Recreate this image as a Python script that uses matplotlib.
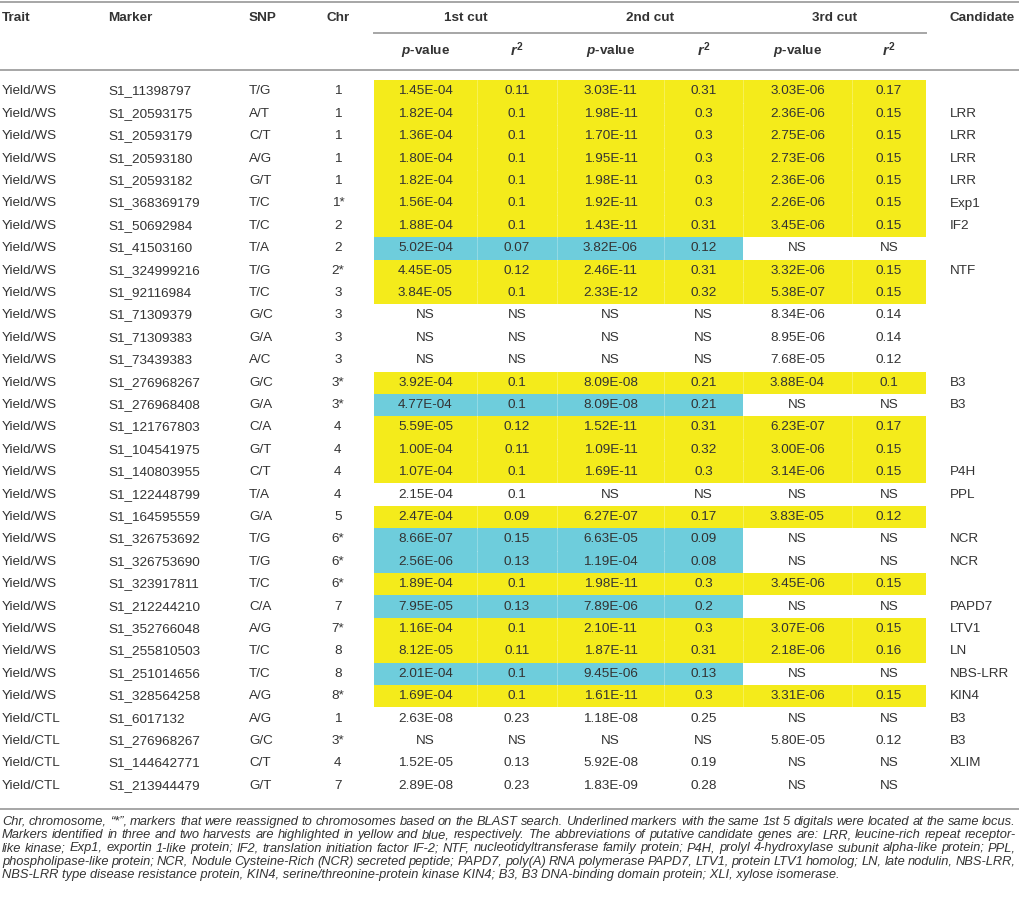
import matplotlib
matplotlib.use("Agg")
import matplotlib.pyplot as plt
from matplotlib.patches import Rectangle

# table content
trait = ["Yield/WS"] * 28 + ["Yield/CTL"] * 4
marker = ["S1_11398797", "S1_20593175", "S1_20593179", "S1_20593180", "S1_20593182",
          "S1_368369179", "S1_50692984", "S1_41503160", "S1_324999216", "S1_92116984",
          "S1_71309379", "S1_71309383", "S1_73439383", "S1_276968267", "S1_276968408",
          "S1_121767803", "S1_104541975", "S1_140803955", "S1_122448799", "S1_164595559",
          "S1_326753692", "S1_326753690", "S1_323917811", "S1_212244210", "S1_352766048",
          "S1_255810503", "S1_251014656", "S1_328564258", "S1_6017132", "S1_276968267",
          "S1_144642771", "S1_213944479"]
snp = ["T/G", "A/T", "C/T", "A/G", "G/T", "T/C", "T/C", "T/A", "T/G", "T/C",
       "G/C", "G/A", "A/C", "G/C", "G/A", "C/A", "G/T", "C/T", "T/A", "G/A",
       "T/G", "T/G", "T/C", "C/A", "A/G", "T/C", "T/C", "A/G", "A/G", "G/C",
       "C/T", "G/T"]
chrom = ["1", "1", "1", "1", "1", "1*", "2", "2", "2*", "3",
         "3", "3", "3", "3*", "3*", "4", "4", "4", "4", "5",
         "6*", "6*", "6*", "7", "7*", "8", "8", "8*", "1", "3*",
         "4", "7"]
p_cut1 = ["1.45E-04", "1.82E-04", "1.36E-04", "1.80E-04", "1.82E-04", "1.56E-04", "1.88E-04",
          "5.02E-04", "4.45E-05", "3.84E-05", "NS", "NS", "NS", "3.92E-04", "4.77E-04",
          "5.59E-05", "1.00E-04", "1.07E-04", "2.15E-04", "2.47E-04", "8.66E-07", "2.56E-06",
          "1.89E-04", "7.95E-05", "1.16E-04", "8.12E-05", "2.01E-04", "1.69E-04", "2.63E-08",
          "NS", "1.52E-05", "2.89E-08"]
r_cut1 = ["0.11", "0.1", "0.1", "0.1", "0.1", "0.1", "0.1", "0.07", "0.12", "0.1",
          "NS", "NS", "NS", "0.1", "0.1", "0.12", "0.11", "0.1", "0.1", "0.09",
          "0.15", "0.13", "0.1", "0.13", "0.1", "0.11", "0.1", "0.1", "0.23", "NS",
          "0.13", "0.23"]
p_cut2 = ["3.03E-11", "1.98E-11", "1.70E-11", "1.95E-11", "1.98E-11", "1.92E-11", "1.43E-11",
          "3.82E-06", "2.46E-11", "2.33E-12", "NS", "NS", "NS", "8.09E-08", "8.09E-08",
          "1.52E-11", "1.09E-11", "1.69E-11", "NS", "6.27E-07", "6.63E-05", "1.19E-04",
          "1.98E-11", "7.89E-06", "2.10E-11", "1.87E-11", "9.45E-06", "1.61E-11", "1.18E-08",
          "NS", "5.92E-08", "1.83E-09"]
r_cut2 = ["0.31", "0.3", "0.3", "0.3", "0.3", "0.3", "0.31", "0.12", "0.31", "0.32",
          "NS", "NS", "NS", "0.21", "0.21", "0.31", "0.32", "0.3", "NS", "0.17",
          "0.09", "0.08", "0.3", "0.2", "0.3", "0.31", "0.13", "0.3", "0.25", "NS",
          "0.19", "0.28"]
p_cut3 = ["3.03E-06", "2.36E-06", "2.75E-06", "2.73E-06", "2.36E-06", "2.26E-06", "3.45E-06",
          "NS", "3.32E-06", "5.38E-07", "8.34E-06", "8.95E-06", "7.68E-05", "3.88E-04", "NS",
          "6.23E-07", "3.00E-06", "3.14E-06", "NS", "3.83E-05", "NS", "NS",
          "3.45E-06", "NS", "3.07E-06", "2.18E-06", "NS", "3.31E-06", "NS",
          "5.80E-05", "NS", "NS"]
r_cut3 = ["0.17", "0.15", "0.15", "0.15", "0.15", "0.15", "0.15", "NS", "0.15", "0.15",
          "0.14", "0.14", "0.12", "0.1", "NS", "0.17", "0.15", "0.15", "NS", "0.12",
          "NS", "NS", "0.15", "NS", "0.15", "0.16", "NS", "0.15", "NS", "0.12",
          "NS", "NS"]
candidate = ["", "LRR", "LRR", "LRR", "LRR", "Exp1", "IF2", "", "NTF", "",
             "", "", "", "B3", "B3", "", "", "P4H", "PPL", "",
             "NCR", "NCR", "", "PAPD7", "LTV1", "LN", "NBS-LRR", "KIN4", "B3", "B3",
             "XLIM", ""]
# Y = found in three harvests (yellow), B = two harvests (blue)
harvest = ["Y", "Y", "Y", "Y", "Y", "Y", "Y", "B", "Y", "Y",
           "", "", "", "Y", "B", "Y", "Y", "Y", "", "Y",
           "B", "B", "Y", "B", "Y", "Y", "B", "Y", "", "",
           "", ""]

caption = [
    "Chr, chromosome, \u201c*\u201d, markers that were reassigned to chromosomes based on the BLAST search. "
    "Underlined markers with the same 1st 5 digitals were located at the same locus.",
    "Markers identified in three and two harvests are highlighted in yellow and blue, respectively. "
    "The abbreviations of putative candidate genes are: LRR, leucine-rich repeat receptor-",
    "like kinase; Exp1, exportin 1-like protein; IF2, translation initiation factor IF-2; NTF, "
    "nucleotidyltransferase family protein; P4H, prolyl 4-hydroxylase subunit alpha-like protein; PPL,",
    "phospholipase-like protein; NCR, Nodule Cysteine-Rich (NCR) secreted peptide; PAPD7, poly(A) RNA "
    "polymerase PAPD7, LTV1, protein LTV1 homolog; LN, late nodulin, NBS-LRR,",
    "NBS-LRR type disease resistance protein, KIN4, serine/threonine-protein kinase KIN4; B3, B3 "
    "DNA-binding domain protein; XLI, xylose isomerase.",
]

plt.rcParams['font.family'] = ['Liberation Sans', 'DejaVu Sans']
plt.rcParams['mathtext.fontset'] = 'custom'
plt.rcParams['mathtext.rm'] = 'Liberation Sans:bold'
plt.rcParams['mathtext.it'] = 'Liberation Sans:italic:bold'

TXT = "#333333"
RULE = "#a6a6a6"
YELLOW = "#f4eb1b"
BLUE = "#6ecddc"
FS = 9.7

fig = plt.figure(figsize=(10.19, 9.0), dpi=100)
ax = fig.add_axes([0, 0, 1, 1])
ax.set_xlim(0, 1019)
ax.set_ylim(900, 0)
ax.axis("off")

# column layout (pixels)
edges = [374, 477, 557, 664, 743, 852, 926]
row0, pitch = 91.5, 22.4

# highlighted cells
for i, h in enumerate(harvest):
    if not h:
        continue
    y = row0 + i * pitch
    ncell = 6 if h == "Y" else 4
    col = YELLOW if h == "Y" else BLUE
    for k in range(ncell):
        ax.add_patch(Rectangle((edges[k], y - pitch / 2), edges[k + 1] - edges[k], pitch,
                               facecolor=col, edgecolor="none"))
        if k > 0:
            ax.plot([edges[k]] * 2, [y - pitch / 2, y + pitch / 2], color="white",
                    lw=0.6, alpha=0.3)

# rules
ax.plot([0, 1019], [2, 2], color=RULE, lw=1.4)
ax.plot([edges[0], edges[-1]], [33, 33], color=RULE, lw=1.4)
ax.plot([0, 1019], [70, 70], color=RULE, lw=1.4)
ax.plot([0, 1019], [809, 809], color=RULE, lw=1.4)

# headers
hk = dict(fontsize=FS, fontweight="bold", color=TXT, va="center")
ax.text(2, 18, "Trait", ha="left", **hk)
ax.text(108, 18, "Marker", ha="left", **hk)
ax.text(249, 18, "SNP", ha="left", **hk)
ax.text(338, 18, "Chr", ha="center", **hk)
ax.text(950, 18, "Candidate", ha="left", **hk)
for k, name in enumerate(["1st cut", "2nd cut", "3rd cut"]):
    ax.text((edges[2 * k] + edges[2 * k + 2]) / 2, 18, name, ha="center", **hk)
    ax.text((edges[2 * k] + edges[2 * k + 1]) / 2, 51, "$p$-value", ha="center", **hk)
    ax.text((edges[2 * k + 1] + edges[2 * k + 2]) / 2, 50, "$r^2$", ha="center",
            fontsize=FS + 0.8, fontweight="bold", color=TXT, va="center")

# body
centers = [(e0 + e1) / 2 for e0, e1 in zip(edges[:-1], edges[1:])]
for i in range(len(marker)):
    y = row0 + i * pitch
    kw = dict(fontsize=FS, color=TXT, va="center")
    ax.text(2, y, trait[i], ha="left", **kw)
    ax.text(108, y, marker[i], ha="left", **kw)
    ax.text(249, y, snp[i], ha="left", **kw)
    ax.text(338, y, chrom[i], ha="center", **kw)
    vals = [p_cut1[i], r_cut1[i], p_cut2[i], r_cut2[i], p_cut3[i], r_cut3[i]]
    for cx, v in zip(centers, vals):
        ax.text(cx, y, v, ha="center", **kw)
    ax.text(950, y, candidate[i], ha="left", **kw)

# caption, justified like the source
renderer = fig.canvas.get_renderer()
left, right = 2, 1016
ck = dict(fontsize=9.3, style="italic", color=TXT, va="center", ha="left")
for j, line in enumerate(caption):
    y = 821.7 + j * 13.4
    if j == len(caption) - 1:
        ax.text(left, y, line, **ck)
        continue
    words = line.split(" ")
    objs = [ax.text(0, y, w, **ck) for w in words]
    widths = [o.get_window_extent(renderer).width for o in objs]
    gap = (right - left - sum(widths)) / (len(words) - 1)
    x = left
    for o, w in zip(objs, widths):
        o.set_x(x)
        x += w + gap

fig.savefig("out.png", dpi=100)
